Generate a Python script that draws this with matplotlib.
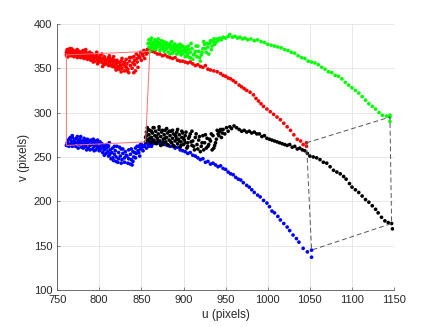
import matplotlib
matplotlib.use("Agg")
import matplotlib.pyplot as plt

plt.rcParams['font.family'] = ['Liberation Sans', 'DejaVu Sans']

# ---- red track ----
red_dense = [(761,365),(761,368),(762,363),(762,371),(763,367),(764,369),(764,365),(765,372),(766,366),(766,370),(767,364),(768,368),(768,371),(769,366),(770,369),(770,363),(771,367),(772,370),(773,365),(773,368),(774,362),(775,366),(776,369),(776,364),(777,367),(778,362),(779,366),(780,369),(780,363),(781,366),(782,361),(783,365),(784,368),(785,362),(785,365),(786,360),(787,364),(788,367),(789,361),(790,364),(790,359),(791,363),(792,366),(793,360),(794,363),(795,358),(796,362),(797,365),(798,359),(799,362),(800,357),(800,361),(801,364),(802,358),(803,361),(804,356),(805,360),(806,363),(807,357),(808,360),(809,355),(810,359),(811,362),(812,356),(813,358),(814,353),(815,357),(816,360),(817,354),(818,357),(819,351),(820,355),(821,359),(822,352),(823,349),(824,356),(825,353),(826,358),(827,350),(828,354),(830,347),(830,357),(831,352),(832,360),(833,355),(834,349),(836,358),(837,353),(838,362),(840,356),(841,363),(842,359),(844,366),(845,361),(847,364),(849,368),(851,366),(853,370),(855,368),(857,371),(859,370),(860,369)]
red_extra = [(762,370),(765,368),(767,372),(769,369),(772,367),(774,371),(777,364),(779,368),(781,370),(783,363),(786,367),(788,362),(791,366),(793,357),(796,364),(798,355),(801,359),(803,366),(806,354),(808,358),(811,353),(813,361),(816,352),(818,359),(820,348),(822,357),(824,350),(826,346),(829,355),(832,351),(835,345),(836,362),(839,350),(842,354),(843,347),(845,357),(848,362),(850,359),(852,364),(854,361),(856,366),(858,368),(859,372),(846,351),(841,345),(833,347),(827,361),(817,363),(812,364),(804,352),(797,368),(789,368),(784,371),(775,363),(771,364),(763,363)]
red_tail = [(863,369),(866,368),(869,366),(872,366),(875,364),(878,365),(881,363),(884,362),(887,361),(890,362),(893,359),(896,358),(899,358),(902,357),(905,356),(908,357),(911,355),(914,353),(917,354),(920,352),(923,351),(926,353),(929,349),(932,348),(936,347),(940,346),(944,344),(947,342),(950,341),(953,339),(956,338),(959,336),(962,334),(966,331),(969,329),(972,327),(975,325),(979,323),(983,320),(986,316),(989,313),(992,310),(995,307),(999,304),(1003,301),(1007,298),(1011,295),(1015,292),(1019,288),(1023,284),(1027,280),(1031,275),(1035,270),(1039,268),(1042,264),(1046,262),(1046,266)]

# ---- green track ----
green_dense = [(860,369),(859,374),(860,378),(861,381),(862,376),(863,372),(864,379),(865,375),(866,382),(867,371),(868,377),(869,380),(870,374),(871,378),(872,370),(873,376),(874,381),(875,373),(876,377),(877,369),(878,375),(879,379),(880,372),(881,376),(882,368),(883,374),(884,378),(885,371),(886,375),(887,367),(888,373),(889,377),(890,370),(891,374),(892,366),(893,372),(894,376),(895,368),(896,373),(897,365),(898,370),(899,375),(900,367),(901,372),(902,363),(903,369),(904,374),(905,366),(906,371),(907,362),(908,368),(910,372),(911,360),(913,366),(915,375),(916,363),(918,369),(920,358),(921,365),(923,372),(925,377),(927,368),(929,374),(931,378),(933,371),(935,380),(937,377),(939,383),(941,381),(943,384),(945,382),(947,385)]
green_extra = [(858,378),(859,382),(861,373),(862,384),(864,372),(866,378),(868,374),(870,383),(872,379),(874,372),(876,380),(878,371),(880,378),(882,375),(884,366),(886,380),(888,369),(890,377),(892,372),(894,369),(896,377),(898,366),(900,374),(902,370),(904,364),(906,375),(908,362),(909,378),(912,365),(914,369),(917,375),(919,362),(922,368),(924,380),(926,372),(928,378),(930,366),(932,381),(934,375),(936,383),(938,379)]
green_tail = [(950,384),(953,386),(955,388),(958,385),(961,386),(964,384),(967,385),(970,383),(973,384),(976,382),(980,383),(984,381),(988,382),(992,380),(996,379),(1000,377),(1004,376),(1008,375),(1012,374),(1016,373),(1020,371),(1024,370),(1028,368),(1032,367),(1036,364),(1040,362),(1044,361),(1048,358),(1052,357),(1056,356),(1060,354),(1064,351),(1068,349),(1072,346),(1076,345),(1080,342),(1084,341),(1088,338),(1092,334),(1096,331),(1100,328),(1104,325),(1108,322),(1112,318),(1116,314),(1120,310),(1124,307),(1128,304),(1132,300),(1136,297),(1141,296),(1145,297),(1145,290),(1145,295)]

# ---- blue track ----
blue_dense = [(761,263),(762,266),(763,269),(764,262),(765,271),(766,265),(767,268),(768,272),(769,264),(770,267),(771,270),(772,262),(773,266),(774,273),(775,268),(776,264),(777,270),(778,266),(779,261),(780,268),(781,264),(782,271),(783,266),(784,262),(785,268),(786,265),(787,260),(788,267),(789,263),(790,269),(791,264),(792,259),(793,266),(794,262),(795,268),(796,258),(797,264),(798,261),(799,266),(800,257),(801,262),(802,259),(803,265),(804,255),(805,261),(806,258),(807,263),(808,254),(809,260),(810,256),(811,262),(812,252),(813,258),(814,248),(815,255),(816,260),(817,246),(818,253),(819,257),(820,250),(821,262),(822,244),(823,255),(825,251),(826,259),(827,247),(828,254),(830,249),(831,256),(833,251),(834,243),(835,258),(837,253),(838,247),(839,241),(840,256),(841,250),(843,260),(844,254),(846,257),(847,262),(848,251),(849,259),(850,264),(852,257),(853,262),(855,266),(856,260),(858,264),(860,267),(862,262),(864,265)]
blue_extra = [(763,264),(766,272),(768,262),(771,266),(773,271),(776,268),(778,273),(781,260),(783,269),(786,270),(789,258),(791,268),(794,257),(796,265),(799,260),(801,267),(804,264),(806,252),(809,264),(811,251),(813,254),(816,249),(818,262),(820,245),(823,248),(826,243),(828,259),(830,244),(832,252),(835,248),(837,242),(840,245),(842,255),(843,249),(845,262),(847,255),(849,264),(851,261),(854,263),(857,268),(859,262),(861,265),(863,269),(798,269),(793,270),(785,258),(775,260),(768,274),(812,266),(824,261),(838,259)]
blue_tail = [(866,266),(869,267),(872,265),(875,266),(878,264),(881,263),(884,262),(887,262),(890,260),(893,261),(896,258),(899,257),(902,256),(905,254),(908,255),(911,252),(914,251),(917,249),(920,247),(923,248),(926,244),(929,245),(932,242),(935,243),(938,241),(941,239),(944,240),(947,237),(950,236),(953,233),(956,231),(959,230),(962,227),(965,225),(968,224),(971,221),(975,218),(978,216),(981,213),(984,210),(988,207),(991,205),(995,201),(999,198),(1002,194),(1005,189),(1008,187),(1012,183),(1015,179),(1019,175),(1023,171),(1026,167),(1030,162),(1034,158),(1037,154),(1042,147),(1047,143),(1052,137),(1052,145)]

# ---- black track ----
black_dense = [(855,267),(855,272),(856,278),(857,283),(858,269),(859,275),(860,280),(861,266),(862,272),(863,277),(864,283),(865,269),(866,274),(867,279),(868,265),(869,271),(870,276),(871,281),(872,268),(873,273),(874,278),(875,264),(876,270),(877,275),(878,280),(879,267),(880,272),(881,277),(882,263),(883,269),(884,274),(885,279),(886,266),(887,271),(888,276),(889,262),(890,268),(891,273),(892,278),(893,265),(894,270),(895,275),(896,261),(897,267),(898,272),(899,277),(900,264),(901,269),(902,274),(904,260),(905,266),(906,271),(908,276),(910,263),(911,268),(913,258),(914,272),(916,264),(918,269),(920,256),(921,262),(923,274),(925,266),(927,260),(928,271),(930,264),(932,268),(934,258),(935,274),(937,263),(939,270),(941,276),(943,279),(945,272),(947,281),(949,276),(951,283),(953,279),(955,284),(957,282)]
black_extra = [(856,274),(857,269),(858,281),(860,271),(862,279),(863,268),(865,283),(866,266),(868,273),(870,268),(871,284),(873,263),(875,280),(876,266),(878,271),(880,282),(881,264),(883,279),(885,267),(887,280),(888,263),(890,275),(892,270),(893,281),(895,268),(897,263),(898,279),(900,271),(902,266),(903,278),(905,262),(907,273),(909,267),(910,279),(912,262),(915,276),(917,259),(919,273),(922,266),(924,258),(926,275),(929,262),(931,270),(933,276),(936,260),(938,266),(940,280),(942,274),(944,281),(946,277)]
black_tail = [(960,285),(963,283),(966,281),(969,279),(972,280),(975,278),(978,279),(981,277),(984,278),(987,276),(990,276),(993,273),(996,274),(999,271),(1002,270),(1005,269),(1008,268),(1011,267),(1014,266),(1017,265),(1020,264),(1023,263),(1026,264),(1029,261),(1032,262),(1035,259),(1038,260),(1041,258),(1044,257),(1047,254),(1050,251),(1054,250),(1058,249),(1062,247),(1066,244),(1070,243),(1074,239),(1078,235),(1082,233),(1086,231),(1090,228),(1093,225),(1097,220),(1100,216),(1104,213),(1108,210),(1112,206),(1116,202),(1120,199),(1124,195),(1128,191),(1131,187),(1135,182),(1139,178),(1143,176),(1148,169),(1147,175)]

x_ticks = [750, 800, 850, 900, 950, 1000, 1050, 1100, 1150]
y_ticks = [100, 150, 200, 250, 300, 350, 400]

tracks = [
    (red_dense + red_extra + red_tail, '#ff0000'),
    (green_dense + green_extra + green_tail, '#00ff00'),
    (blue_dense + blue_extra + blue_tail, '#0000ff'),
    (black_dense + black_extra + black_tail, '#000000'),
]

fig = plt.figure(figsize=(4.36, 3.27), dpi=100)
ax = fig.add_axes([0.131, 0.113, 0.773, 0.814])

for pts, col in tracks:
    u = [p[0] for p in pts]
    v = [p[1] for p in pts]
    ax.scatter(u, v, s=7, color=col, edgecolors='none', zorder=3)

# quadrilaterals joining the first points (solid) and last points (dashed)
starts = [red_dense[0], green_dense[0], black_dense[0], blue_dense[0], red_dense[0]]
ends = [red_tail[-1], green_tail[-1], black_tail[-1], blue_tail[-1], red_tail[-1]]
ax.plot([p[0] for p in starts], [p[1] for p in starts],
        color='#ff7070', lw=0.7, zorder=4)
ax.plot([p[0] for p in ends], [p[1] for p in ends],
        color='#555555', lw=0.7, ls=(0, (5, 3)), zorder=4)

ax.set_xlim(750, 1150)
ax.set_ylim(100, 400)
ax.set_xticks(x_ticks)
ax.set_yticks(y_ticks)
ax.grid(True, color='#e3e3e3', lw=0.6)
ax.set_axisbelow(True)
for s in ['top', 'right']:
    ax.spines[s].set_visible(False)
for s in ['left', 'bottom']:
    ax.spines[s].set_color('#555555')
    ax.spines[s].set_linewidth(0.6)
ax.tick_params(direction='in', length=2.5, width=0.5, colors='#555555',
               labelcolor='#262626', labelsize=8)
ax.set_xlabel('u (pixels)', fontsize=8.5, color='#262626', labelpad=3)
ax.set_ylabel('v (pixels)', fontsize=8.5, color='#262626', labelpad=3)

fig.savefig('out.png', dpi=100)
